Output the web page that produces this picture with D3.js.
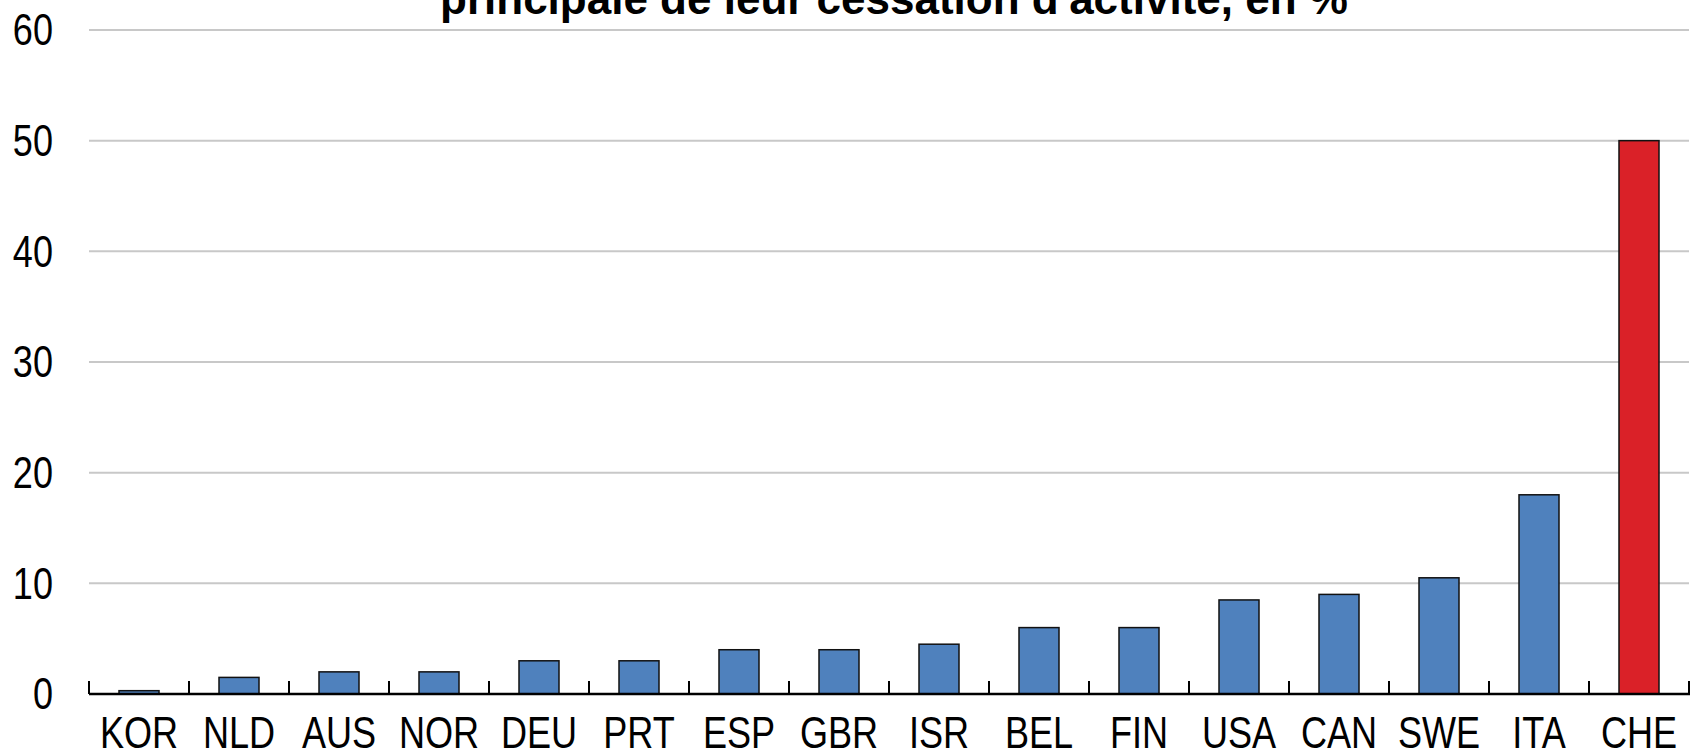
<!DOCTYPE html>
<html>
<head>
<meta charset="utf-8">
<script src="https://cdn.jsdelivr.net/npm/d3@7"></script>
<style>
  html, body { margin: 0; padding: 0; background: #fff; overflow: hidden; }
</style>
</head>
<body>
<div id="chart"></div>
<script>
// data
const countries = ["KOR", "NLD", "AUS", "NOR", "DEU", "PRT", "ESP", "GBR", "ISR", "BEL", "FIN", "USA", "CAN", "SWE", "ITA", "CHE"];
const values = [0.3, 1.5, 2, 2, 3, 3, 4, 4, 4.5, 6, 6, 8.5, 9, 10.5, 18, 50];
const highlighted = ["CHE"];
const yTicks = [0, 10, 20, 30, 40, 50, 60];
const titleLine = "principale de leur cessation d'activité, en %";

const W = 1696, H = 751;
const margin = { top: 30, right: 6, bottom: 57, left: 89 };

// check for the narrow face, else squeeze the regular one
const hasNarrow = (function () {
  const ctx = document.createElement("canvas").getContext("2d");
  ctx.font = '44px "Liberation Sans Narrow", monospace';
  const a = ctx.measureText("KOR NLD 60").width;
  ctx.font = "44px monospace";
  const b = ctx.measureText("KOR NLD 60").width;
  return a !== b;
})();
const labelFont = hasNarrow ? '"Liberation Sans Narrow", "Arial Narrow", sans-serif' : '"Liberation Sans", Arial, sans-serif';
const squeeze = hasNarrow ? 1 : 0.82;

const svg = d3.select("#chart")
  .append("svg")
  .attr("width", W)
  .attr("height", H);

const x = d3.scaleBand()
  .domain(countries)
  .range([margin.left, W - margin.right - 1])
  .paddingInner(0.6)
  .paddingOuter(0.3);

const y = d3.scaleLinear()
  .domain([0, 60])
  .range([H - margin.bottom, margin.top]);

// gridlines
svg.append("g")
  .selectAll("line")
  .data(yTicks.filter(d => d > 0))
  .join("line")
  .attr("x1", x.range()[0])
  .attr("x2", x.range()[1])
  .attr("y1", d => y(d))
  .attr("y2", d => y(d))
  .attr("stroke", "#c8c8c8")
  .attr("stroke-width", 2);

// bars
svg.append("g")
  .selectAll("rect")
  .data(countries)
  .join("rect")
  .attr("x", d => x(d))
  .attr("width", x.bandwidth())
  .attr("y", (d, i) => y(values[i]))
  .attr("height", (d, i) => y(0) - y(values[i]))
  .attr("fill", d => highlighted.includes(d) ? "#da2128" : "#4f81bd")
  .attr("stroke", "#111")
  .attr("stroke-width", 1.5);

// x axis: line, upward ticks at band edges
const step = x.step();
const edges = countries.map(d => x(d) - step * x.paddingInner() / 2);
edges.push(edges[edges.length - 1] + step);

const xAxis = svg.append("g");
xAxis.append("line")
  .attr("x1", x.range()[0])
  .attr("x2", x.range()[1] + 1)
  .attr("y1", y(0))
  .attr("y2", y(0))
  .attr("stroke", "#000")
  .attr("stroke-width", 2.5);
xAxis.selectAll(".tick")
  .data(edges)
  .join("line")
  .attr("class", "tick")
  .attr("x1", d => d)
  .attr("x2", d => d)
  .attr("y1", y(0))
  .attr("y2", y(0) - 13)
  .attr("stroke", "#000")
  .attr("stroke-width", 2);

// x labels
svg.append("g")
  .selectAll("text")
  .data(countries)
  .join("text")
  .attr("transform", d => "translate(" + (x(d) + x.bandwidth() / 2) + "," + 748 + ") scale(" + squeeze + ",1)")
  .attr("text-anchor", "middle")
  .style("font-family", labelFont)
  .style("font-size", "44px")
  .style("fill", "#000")
  .text(d => d);

// y labels
svg.append("g")
  .selectAll("text")
  .data(yTicks)
  .join("text")
  .attr("transform", d => "translate(" + 53 + "," + y(d) + ") scale(" + squeeze + ",1)")
  .attr("text-anchor", "end")
  .attr("dy", "0.35em")
  .style("font-family", labelFont)
  .style("font-size", "44px")
  .style("fill", "#000")
  .text(d => d);

// title (only its last line falls inside the frame)
svg.append("text")
  .attr("x", 894)
  .attr("y", 13.5)
  .attr("text-anchor", "middle")
  .style("font-family", '"Liberation Sans", Arial, sans-serif')
  .style("font-weight", "bold")
  .style("font-size", "44px")
  .style("fill", "#000")
  .text(titleLine);
</script>
</body>
</html>
